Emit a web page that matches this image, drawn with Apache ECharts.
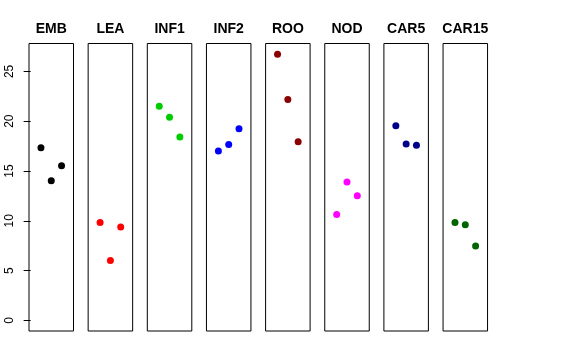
<!DOCTYPE html>
<html><head><meta charset="utf-8">
<script src="https://cdn.jsdelivr.net/npm/echarts@6/dist/echarts.min.js"></script>
<style>html,body{margin:0;padding:0;background:#fff}#c{width:576px;height:360px}</style>
</head><body><div id="c"></div>
<script>
const categories = ['EMB','LEA','INF1','INF2','ROO','NOD','CAR5','CAR15'];
const colors = ['#000000','#FF0000','#00CD00','#0000FF','#8B0000','#FF00FF','#00008B','#006400'];
const valEMB = [17.33, 14.03, 15.53];
const valLEA = [9.83, 6.0, 9.37];
const valINF1 = [21.5, 20.4, 18.4];
const valINF2 = [17.0, 17.67, 19.23];
const valROO = [26.73, 22.17, 17.93];
const valNOD = [10.63, 13.9, 12.5];
const valCAR5 = [19.53, 17.7, 17.57];
const valCAR15 = [9.83, 9.6, 7.47];
const yTicks = [0, 5, 10, 15, 20, 25];
const allVals = [valEMB, valLEA, valINF1, valINF2, valROO, valNOD, valCAR5, valCAR15];

(function(){
const yMax = Math.max(...allVals.flat());
const yPad = yMax * 0.04;
const yMinAx = -yPad, yMaxAx = yMax + yPad;

const left0 = 29, step = 59.15, w = 44.5, gTop = 43.5, h = 287.5;
const grids = [], xAxes = [], yAxes = [], series = [], graphics = [];
categories.forEach((c, i) => {
  const l = left0 + i * step;
  grids.push({left: l, top: gTop, width: w, height: h, show: true, borderColor: '#000', borderWidth: 1, backgroundColor: 'transparent', containLabel: false});
  xAxes.push({type: 'value', gridIndex: i, min: -0.16, max: 4.16, show: false});
  yAxes.push({type: 'value', gridIndex: i, min: yMinAx, max: yMaxAx, show: i === 0,
    splitLine: {show: false}, axisLine: {show: false},
    axisTick: {show: true, length: 7, customValues: yTicks, lineStyle: {color: '#000'}},
    axisLabel: {show: true, customValues: yTicks, rotate: 90, margin: 13, color: '#000', fontSize: 12, fontFamily: 'Liberation Sans'}
  });
  series.push({type: 'scatter', xAxisIndex: i, yAxisIndex: i, symbolSize: 7, itemStyle: {color: colors[i], opacity: 1},
    data: allVals[i].map((v, k) => [k + 1, v]), silent: true});
  graphics.push({type: 'text', x: l + w / 2, y: 29.5, style: {text: c, textAlign: 'center', textVerticalAlign: 'middle', font: 'bold 14px "Liberation Sans"', fill: '#000'}});
});
const chart = echarts.init(document.getElementById('c'), null, {renderer: 'canvas'});
chart.setOption({animation: false, backgroundColor: '#fff', grid: grids, xAxis: xAxes, yAxis: yAxes, series: series, graphic: graphics});
})();
</script></body></html>
